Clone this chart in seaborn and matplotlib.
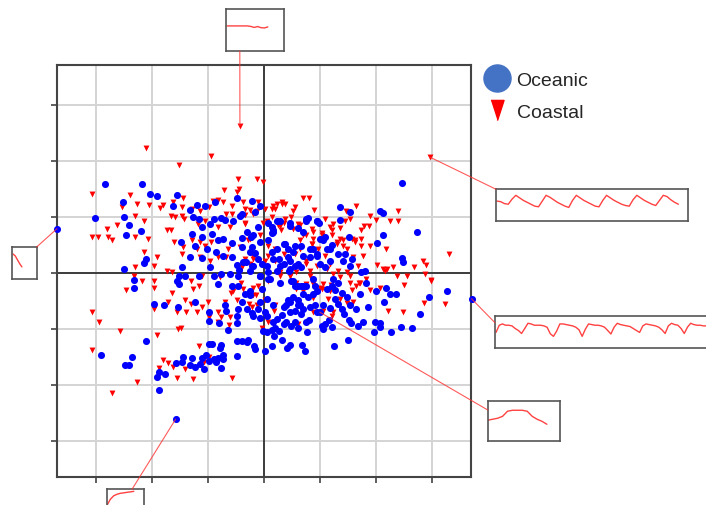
import numpy as np
import pandas as pd
import seaborn as sns
import matplotlib.pyplot as plt
from matplotlib.lines import Line2D
from matplotlib.patches import ConnectionPatch

# score pairs (component 1, component 2)
oceanic = [
    (-2.85, 1.59), (-2.18, 1.59), (-2.03, 1.41), (-1.92, 1.37), (-1.55, 1.40), (-2.52, 1.27), (-3.02, 0.98),
    (-2.51, 0.99), (-2.42, 0.85), (-2.46, 0.67), (-2.20, 0.75), (-1.62, 1.20), (-1.49, 0.56), (-2.10, 0.25),
    (-2.14, 0.17), (-2.50, 0.07), (-2.33, -0.12), (-1.47, 0.10),
    (-1.32, 1.13), (-1.20, 1.21), (-1.05, 1.20), (-0.88, 1.27), (-1.27, 0.99), (-1.17, 0.96), (-0.90, 0.96),
    (-0.76, 0.98), (-0.70, 0.95), (-0.55, 0.92), (-0.43, 1.01), (-0.22, 1.29), (-0.07, 1.19), (-0.49, 1.34),
    (-1.10, 0.82), (-0.96, 0.88), (-1.29, 0.70), (-1.11, 0.65), (-0.93, 0.70), (-0.83, 0.58), (-0.73, 0.61),
    (-1.23, 0.48), (-1.02, 0.43), (-0.85, 0.37), (-0.58, 0.54), (-0.40, 0.63), (-0.24, 0.64), (-0.10, 0.82),
    (0.08, 0.89), (0.14, 0.71), (-0.40, 0.46), (-0.22, 0.46), (-0.16, 0.36), (-0.10, 0.25), (-0.03, 0.16),
    (-0.49, 0.14), (-0.45, 0.06), (-0.33, 0.19), (-0.22, 0.12), (-0.58, 0.28), (-0.73, 0.31), (-0.96, 0.10),
    (-1.11, 0.27), (-1.32, 0.28), (-1.41, -0.05), (-1.17, -0.05), (-0.90, -0.05), (-0.76, -0.02), (-0.60, -0.02),
    (-0.46, -0.06), (-0.25, 0.04), (-0.07, -0.05), (0.07, -0.11), (0.08, 0.01), (-1.51, -0.05), (-1.56, -0.15),
    (2.46, 1.60), (1.35, 1.18), (1.36, 0.95), (2.07, 1.10), (2.12, 1.07), (2.74, 0.73), (2.13, 0.67),
    (2.02, 0.53), (1.52, 0.65), (2.46, 0.27), (2.49, 0.19), (0.79, 0.98), (0.75, 0.93), (0.94, 0.92),
    (0.99, 0.90), (0.46, 0.83), (0.61, 0.80), (0.70, 0.74), (0.23, 0.93), (0.14, 0.82), (0.17, 0.73),
    (1.09, 0.64), (1.06, 0.58), (0.88, 0.43), (1.18, 0.43), (1.21, 0.50), (0.94, 0.34), (0.82, 0.28),
    (0.38, 0.52), (0.43, 0.43), (0.55, 0.49), (0.67, 0.48), (0.70, 0.31), (0.26, 0.25), (0.35, 0.16),
    (0.46, 0.22), (0.55, 0.13), (0.44, 0.04), (0.67, 0.10), (1.00, 0.16), (1.09, 0.10), (1.42, 0.22),
    (1.54, 0.13), (1.58, 0.25), (1.33, 0.34), (1.45, 0.34), (1.80, 0.04), (1.74, 0.02), (0.23, 0.04),
    (0.14, 0.37), (1.24, -0.11), (0.88, -0.11),
    (-2.32, -0.27), (-1.51, -0.20), (-1.96, -0.55), (-1.79, -0.58), (-1.53, -0.60), (-1.23, -0.52),
    (-0.99, -0.70), (-0.99, -0.85), (-0.80, -0.90), (-0.64, -1.01), (-0.70, -0.58), (-0.67, -0.67),
    (-0.49, -0.76), (-0.49, -0.90), (-0.46, -0.64), (-0.40, -0.52), (-0.34, -0.38), (-0.25, -0.33),
    (-0.22, -0.71), (-0.10, -0.64), (-0.07, -0.81), (0.02, -0.70), (-0.03, -0.29), (-0.01, -1.03),
    (0.05, -1.06), (0.15, -1.01), (0.02, -1.39), (-0.83, -0.20), (-0.58, -0.23), (-0.47, -0.23),
    (-2.10, -1.22), (-2.91, -1.46), (-2.36, -1.49), (-2.42, -1.64), (-2.48, -1.65), (-1.92, -1.86),
    (-1.88, -1.76), (-1.77, -1.80), (-1.58, -1.61), (-1.47, -1.58), (-1.45, -1.49), (-1.29, -1.52),
    (-1.33, -1.65), (-1.23, -1.67), (-1.14, -1.62), (-1.08, -1.71), (-1.11, -1.52), (-1.04, -1.46),
    (-0.98, -1.26), (-0.93, -1.26), (-0.99, -1.57), (-0.90, -1.54), (-0.83, -1.51), (-0.79, -1.33),
    (-0.77, -1.29), (-0.76, -1.70), (-0.73, -1.54), (-0.73, -1.46), (-0.85, -1.58), (-0.48, -1.48),
    (-0.49, -1.21), (-0.40, -1.22), (-0.28, -1.19), (-0.31, -1.24), (-0.16, -1.35), (-0.17, -1.30),
    (-1.88, -2.08), (-1.58, -2.61),
    (3.28, -0.33), (2.95, -0.42), (2.79, -0.73), (2.64, -0.99), (2.45, -0.97), (2.27, -1.06), (2.15, -0.52),
    (1.98, -0.87), (2.08, -0.89), (2.07, -0.97), (1.97, -1.05), (1.86, -0.60), (1.77, -0.88), (1.68, -0.95),
    (1.55, -0.89), (1.52, -0.83), (1.51, -1.20), (1.26, -1.31), (1.21, -0.97), (1.06, -1.00), (1.03, -0.94),
    (1.09, -0.91), (1.17, -0.83), (1.65, -0.65), (1.54, -0.58), (1.43, -0.73), (1.39, -0.64), (1.33, -0.55),
    (1.27, -0.46), (1.40, -0.35), (1.48, -0.43), (1.71, -0.38), (1.83, -0.17), (2.01, -0.33), (2.25, -0.37),
    (2.36, -0.38), (2.18, -0.26), (0.94, -0.70), (1.00, -0.70), (1.06, -0.58), (1.18, -0.63), (0.91, -0.58),
    (0.82, -0.61), (0.81, -0.83), (0.76, -0.87), (0.77, -1.06), (0.68, -1.28), (0.73, -1.40), (0.46, -1.29),
    (0.42, -1.33), (0.33, -1.19), (0.18, -1.12), (0.14, -1.30), (0.27, -1.03), (0.35, -0.91), (0.39, -0.87),
    (0.49, -0.94), (0.55, -0.87), (0.60, -0.99), (0.67, -0.73), (0.70, -0.64), (0.64, -0.58), (0.55, -0.67),
    (0.46, -0.52), (0.43, -0.48), (0.52, -0.43), (0.60, -0.48), (0.70, -0.38), (0.79, -0.43), (0.88, -0.38),
    (0.94, -0.32), (0.69, -0.23), (0.61, -0.23), (0.55, -0.24), (0.76, -0.23), (0.91, -0.24), (1.12, -0.29),
    (1.21, -0.23), (1.27, -0.31), (1.33, -0.17), (0.49, -0.14), (0.35, -0.61), (0.33, -0.75), (0.17, -0.87),
    (0.20, -0.99),
    (-0.40, 1.05), (-0.16, 1.08), (-0.31, 0.73), (-0.19, 0.67), (-0.07, 0.55), (0.08, 0.58), (0.17, 0.76),
    (0.23, 0.43), (0.35, 0.52), (0.43, 0.28), (0.52, 0.37), (0.61, 0.16), (0.46, 0.07), (0.29, 0.13),
    (0.17, 0.25), (0.05, 0.13), (-0.07, -0.05), (0.11, -0.11), (0.29, -0.17), (0.52, -0.14), (0.67, -0.23),
    (-0.25, 0.37), (-0.37, 0.19), (-0.19, 0.13), (0.82, 0.43), (0.94, 0.31), (1.00, 0.61), (0.76, 0.96),
    (0.94, 0.93), (1.54, 1.08), (0.29, 0.93), (0.46, 0.90), (1.12, 0.43), (1.18, 0.22), (0.61, -0.58),
    (0.40, -0.58), (0.17, -0.58), (0.05, -0.46), (-0.07, -0.52), (-0.25, -0.40), (-0.31, -0.64),
    (-0.19, -0.76), (0.05, -0.76), (0.23, -0.82), (0.46, -0.70),
    (-3.70, 0.79), (3.71, -0.46),
]

coastal = [
    (-2.10, 2.23), (-0.95, 2.08), (-1.52, 1.92), (-3.07, 1.41), (-2.40, 1.40), (-0.47, 1.68), (-0.12, 1.68),
    (-0.02, 1.62), (-0.45, 1.50), (-0.71, 1.48), (-0.49, 1.44), (-1.44, 1.33), (-1.63, 1.27), (-1.80, 1.21),
    (-1.86, 1.16), (-2.05, 1.22), (-2.27, 1.23), (-2.54, 1.17), (-1.47, 1.17), (-1.29, 1.14), (-1.14, 1.11),
    (-0.99, 1.17), (-0.92, 1.29), (-0.82, 1.31), (-0.73, 1.26), (-0.58, 1.20), (-0.34, 1.14), (-0.25, 1.13),
    (-0.10, 1.26), (0.02, 1.14), (-1.47, 1.01), (-1.66, 1.01), (-1.59, 0.99), (-1.43, 0.96), (-2.30, 1.01),
    (-2.14, 0.92), (-2.62, 0.85), (-2.80, 0.79), (-3.08, 0.65), (-2.96, 0.65), (-2.78, 0.65), (-2.72, 0.58),
    (-2.30, 0.64), (-2.07, 0.60), (-1.74, 0.76), (-1.66, 0.76), (-1.60, 0.56), (-1.44, 0.46), (-1.47, 0.34),
    (-2.14, 0.38), (-1.92, 0.28), (-1.96, 0.13), (-2.30, 0.11), (-1.74, 0.04), (-1.65, 0.02), (-2.33, -0.05),
    (-2.18, -0.14), (-1.97, -0.14), (-1.11, -0.05), (-0.79, -0.08), (-0.58, 1.05), (-0.67, 1.05), (-0.34, 1.04),
    (-0.19, 1.05), (-1.18, 0.88), (-1.06, 0.92), (-0.82, 0.82), (-0.61, 0.82), (-0.34, 0.88), (0.05, 0.93),
    (-1.29, 0.58), (-1.14, 0.55), (-1.05, 0.49), (-0.95, 0.55), (-0.64, 0.43), (-0.43, 0.46), (-0.28, 0.58),
    (-0.07, 0.67), (0.08, 0.49), (-0.19, 0.31), (-0.34, 0.25), (-0.67, 0.28), (-0.82, 0.28), (-1.14, 0.28),
    (-0.25, 0.16), (-0.40, 0.10), (0.02, 0.22), (-1.20, 0.43), (-0.96, 0.22),
    (2.96, 2.07), (3.30, 0.34), (2.40, 1.10), (2.39, 0.93), (2.25, 0.92), (2.19, 0.43), (2.85, 0.22),
    (2.90, 0.14), (2.68, 0.10), (2.55, -0.05), (2.87, -0.02), (2.99, -0.12), (2.37, -0.06), (2.30, 0.10),
    (2.20, 0.07), (2.13, 0.07), (2.02, 0.14), (1.89, 1.01), (2.00, 0.95), (1.88, 0.83), (1.79, 0.83),
    (1.73, 0.77), (1.74, 0.61), (1.63, 0.58), (1.89, 0.49), (1.64, 1.20), (1.54, 0.96), (1.46, 1.10),
    (1.52, 1.07), (1.45, 0.93), (1.24, 0.88), (1.18, 0.82), (1.21, 0.67), (1.30, 0.52), (1.42, 0.49),
    (1.48, 0.43), (1.36, 0.61), (1.60, 0.28), (1.77, 0.31), (1.68, 0.13), (1.49, 0.01), (1.33, 0.04),
    (1.71, -0.17), (1.83, -0.11), (0.69, 1.33), (0.81, 1.33), (0.90, 1.13), (0.55, 1.17), (0.52, 1.11),
    (0.38, 1.23), (0.32, 1.27), (0.23, 1.23), (0.20, 1.14), (0.14, 1.14), (0.38, 0.96), (0.49, 0.99),
    (0.61, 0.88), (0.29, 0.83), (0.31, 0.76), (0.85, 0.79), (1.09, 0.96), (1.03, 0.71), (0.76, 0.67),
    (0.64, 0.58), (0.88, 0.61), (0.85, 0.52), (0.96, 0.43), (1.09, 0.31), (1.18, 0.16), (0.76, 0.16),
    (0.82, 0.04), (0.58, 0.01), (0.46, -0.05), (0.29, 0.02), (0.35, 0.34), (0.20, 0.43), (0.55, 0.34),
    (1.36, 0.80), (2.16, 0.04), (1.54, -0.05),
    (-3.08, -0.69), (-2.94, -0.88), (-2.57, -1.03), (-3.07, -1.37), (-2.27, -1.95), (-2.72, -2.14),
    (-2.47, -0.30), (-1.96, -0.26), (-1.65, -0.35), (-1.97, -0.64), (-1.72, -0.52), (-1.55, -0.69),
    (-1.41, -0.48), (-1.30, -0.55), (-1.40, -0.69), (-1.20, -0.70), (-1.11, -0.60), (-1.00, -0.51),
    (-1.26, -0.29), (-1.17, -0.24), (-1.30, -0.14), (-0.59, -0.35), (-0.55, -0.33), (-0.76, -0.79),
    (-0.61, -0.79), (-0.62, -0.93), (-0.70, -0.51), (-0.49, -0.49), (-0.27, -0.55), (-0.22, -0.61),
    (-0.13, -0.57), (-0.15, -0.40), (-0.19, -0.27), (0.02, -0.49), (0.08, -0.88), (-0.04, -0.99),
    (0.07, -0.14), (-0.41, -0.17), (-1.54, -1.00), (-1.49, -0.98), (-1.92, -1.11), (-1.16, -1.31),
    (-0.98, -1.49), (-1.08, -1.58), (-1.80, -1.55), (-1.72, -1.61), (-1.62, -1.67), (-1.88, -1.70),
    (-1.41, -1.71), (-1.55, -1.88), (-1.27, -1.90), (-0.57, -1.87), (-0.82, -0.88), (-0.99, -0.79),
    (-0.83, -0.70),
    (3.24, -0.55), (2.86, -0.54), (2.48, -0.70), (2.22, -0.67), (2.51, -0.21), (2.99, -0.14), (1.70, -0.18),
    (1.89, -0.30), (1.57, -0.30), (1.60, -0.51), (1.48, -0.54), (1.23, -0.70), (1.21, -0.76), (0.88, -0.70),
    (0.88, -0.45), (0.20, -0.58), (0.18, -0.68), (0.61, -0.91), (1.03, -0.29), (0.70, -0.33), (0.57, -0.18),
    (0.87, -0.20), (1.06, -0.20), (1.19, -0.21), (2.07, -0.26), (1.15, -0.46),
    (-0.37, 1.26), (-0.13, 1.11), (0.17, 1.20), (0.32, 1.23), (-0.01, 0.90), (0.14, 0.99), (0.25, 0.85),
    (0.35, 0.90), (0.52, 0.79), (0.64, 0.85), (0.70, 0.67), (0.88, 0.73), (1.03, 0.67), (1.21, 0.76),
    (1.30, 0.55), (1.42, 0.58), (1.58, 0.61), (1.63, 0.55), (1.74, 0.49), (0.85, 0.52), (0.64, 0.43),
    (0.76, 0.22), (0.94, 0.13), (1.12, 0.07), (1.24, -0.02), (1.36, -0.08), (1.54, -0.17), (1.65, -0.23),
    (0.29, -0.05), (0.46, -0.05), (0.82, -0.05), (-0.19, 0.25), (-0.25, 0.61), (-0.34, 0.90), (0.08, 0.31),
    (0.20, 0.22), (0.58, -0.29), (0.76, -0.20), (1.00, -0.26), (1.18, -0.32), (1.36, -0.46), (1.06, -0.67),
    (-0.19, -0.40), (-0.37, -0.29), (-0.10, -0.23),
    (-0.43, 2.63),
]

# waveforms of the highlighted samples (normalised amplitude)
wave_top = [0, 0, 0, 0, 0, 0, 0, -0.04, -0.12, -0.05, -0.14, -0.16, -0.08]
wave_left = [1.0, 0.85, 0.55, 0.25, 0.0]
wave_upper_right = [0.55, 0.5, 0.35, 0.3, 0.7, 1.0, 0.8, 0.6, 0.45, 0.3, 0.15, 0.1, 0.55, 1.0, 0.85, 0.65,
                    0.45, 0.3, 0.15, 0.05, 0.6, 1.0, 0.8, 0.6, 0.45, 0.3, 0.15, 0.1, 0.6, 1.0, 0.8, 0.6,
                    0.45, 0.3, 0.2, 0.15, 0.65, 1.0, 0.8, 0.6, 0.45, 0.3, 0.2, 0.6, 1.0, 0.9, 0.65, 0.45, 0.3]
wave_mid_right = [0.3, 0.85, 0.95, 0.85, 0.85, 0.8, 0.6, 0.45, 0.22, 0.6, 1.0, 0.95, 0.85, 0.85, 0.85, 0.8,
                  0.7, 0.2, 0.0, 0.4, 0.95, 0.95, 0.9, 0.85, 0.8, 0.7, 0.5, 0.0, 0.55, 0.95, 0.9, 0.85,
                  0.85, 0.8, 0.7, 0.45, 0.18, 0.7, 1.0, 0.9, 0.85, 0.8, 0.75, 0.6, 0.45, 0.3, 0.8, 0.95,
                  0.9, 0.85, 0.8, 0.7, 0.5, 0.22, 0.8, 1.0, 0.9, 0.85, 0.6, 0.22, 0.7, 1.0, 0.9, 0.85,
                  0.85, 0.8, 0.8]
wave_lower_right = [0.29, 0.36, 0.43, 0.57, 0.93, 1.0, 1.0, 1.0, 0.93, 0.57, 0.36, 0.21, 0.0]
wave_lower_left = [0, 0.43, 0.68, 0.79, 0.86, 0.89, 0.93, 0.96, 1.0]

# which sample each waveform belongs to
picked = {
    'top': (-0.43, 2.63),
    'left': (-3.70, 0.79),
    'upper_right': (2.96, 2.07),
    'mid_right': (3.71, -0.46),
    'lower_right': (1.00, -0.70),
    'lower_left': (-1.58, -2.61),
}

ocean_df = pd.DataFrame(oceanic, columns=['pc1', 'pc2'])
coast_df = pd.DataFrame(coastal, columns=['pc1', 'pc2'])

sns.set_style('white')
plt.rcParams['font.family'] = ['Liberation Sans', 'DejaVu Sans']

fig = plt.figure(figsize=(7.06, 5.06), dpi=100)
ax = fig.add_axes([0.0807, 0.0553, 0.5864, 0.8142])

sns.scatterplot(data=coast_df, x='pc1', y='pc2', ax=ax, marker='v', color='#ff0000',
                s=18, linewidth=0, zorder=3, clip_on=False)
sns.scatterplot(data=ocean_df, x='pc1', y='pc2', ax=ax, marker='o', color='#0000ff',
                s=26, linewidth=0, zorder=4, clip_on=False)

ax.set_xlim(-3.70, 3.70)
ax.set_ylim(-3.64, 3.71)
ticks = [-3, -2, -1, 0, 1, 2, 3]
ax.set_xticks(ticks)
ax.set_yticks(ticks)
ax.grid(True, color='#d4d4d4', lw=1.4, zorder=0)
ax.set_axisbelow(True)
ax.axhline(0, color='#3c3c3c', lw=1.4, zorder=1)
ax.axvline(0, color='#3c3c3c', lw=1.4, zorder=1)
ax.tick_params(bottom=True, left=True, length=4, width=1.2, color='#444444',
               labelbottom=False, labelleft=False, direction='out')
ax.set_xlabel('')
ax.set_ylabel('')
for sp in ax.spines.values():
    sp.set_visible(True)
    sp.set_color('#444444')
    sp.set_linewidth(1.5)

# inset boxes: rect, x span of trace, y fraction for 0 and 1, anchor of the leader line
insets = [
    ('top', wave_top, [0.320, 0.897, 0.082, 0.083], (0.017, 0.724), (0.6, 0.9), (0.24, 0.0)),
    ('left', wave_left, [0.017, 0.447, 0.035, 0.063], (0.04, 0.40), (0.375, 0.78), (1.0, 1.0)),
    ('upper_right', wave_upper_right, [0.7025, 0.561, 0.272, 0.063], (0.005, 0.95), (0.41, 0.81), (0.0, 1.0)),
    ('mid_right', wave_mid_right, [0.701, 0.310, 0.319, 0.063], (0.005, 0.94), (0.37, 0.78), (0.0, 0.8)),
    ('lower_right', wave_lower_right, [0.691, 0.126, 0.102, 0.079], (0.0, 0.82), (0.425, 0.775), (0.0, 0.78)),
    ('lower_left', wave_lower_left, [0.1516, -0.028, 0.052, 0.059], (0.0, 0.73), (0.467, 0.933), (0.68, 1.0)),
]

for key, wave, rect, (a, b), (y0f, y1f), anchor in insets:
    iax = fig.add_axes(rect)
    idx = np.arange(len(wave))
    sns.lineplot(x=idx, y=wave, ax=iax, color='#ff2020', lw=1.0, alpha=0.85)
    per = (b - a) / (len(wave) - 1)
    xlo = -a / per
    iax.set_xlim(xlo, xlo + 1 / per)
    unit = y1f - y0f
    ylo = -y0f / unit
    iax.set_ylim(ylo, ylo + 1 / unit)
    iax.set_xticks([])
    iax.set_yticks([])
    for sp in iax.spines.values():
        sp.set_visible(True)
        sp.set_color('#555555')
        sp.set_linewidth(1.2)
    con = ConnectionPatch(xyA=picked[key], coordsA=ax.transData, xyB=anchor, coordsB=iax.transAxes,
                          color='#ff3030', lw=0.8, alpha=0.8, zorder=5)
    fig.add_artist(con)

tri = [(-0.65, 1.0), (0.65, 1.0), (0.0, -1.0)]
handles = [Line2D([], [], ls='', marker='o', color='#4472c4', markersize=19.5),
           Line2D([], [], ls='', marker=tri, color='#ff0000', markersize=14.5)]
fig.legend(handles, ['Oceanic', 'Coastal'], loc='upper left', bbox_to_anchor=(0.660, 0.892),
           frameon=False, fontsize=14, handletextpad=0.3, labelspacing=0.75, handlelength=1.4)

fig.savefig('out.png', dpi=100)
